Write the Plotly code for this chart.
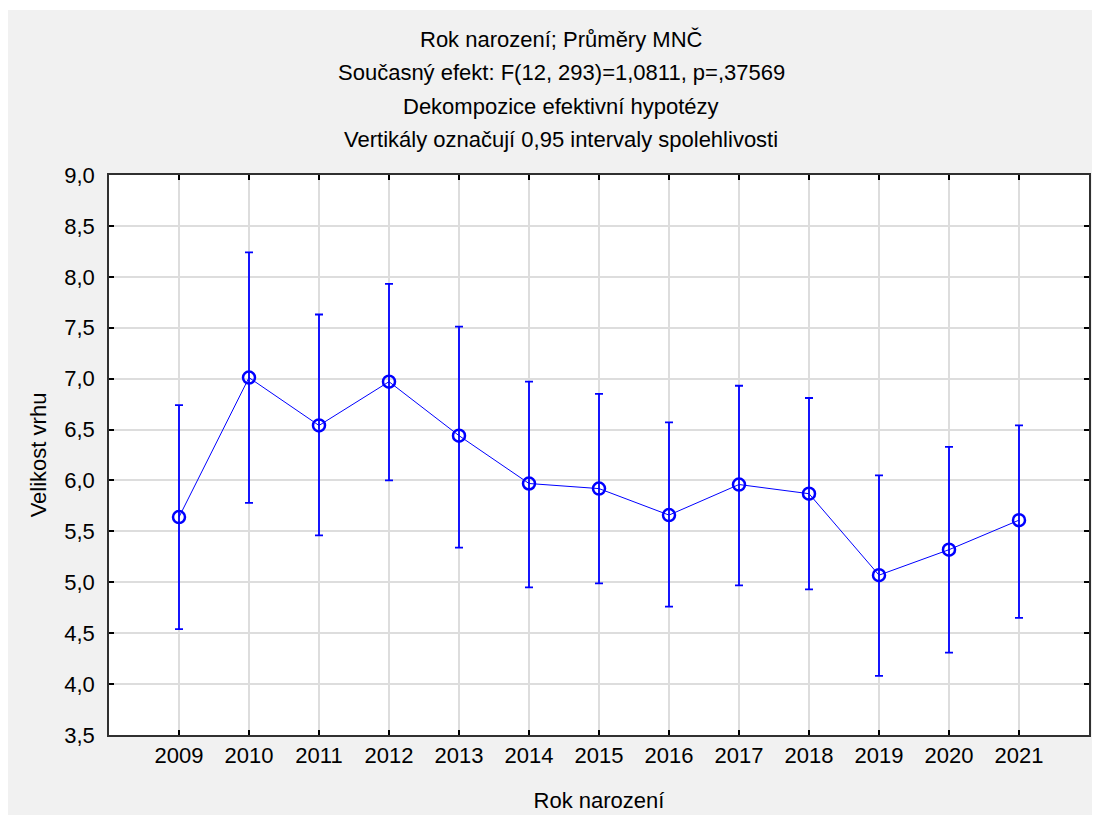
import plotly.graph_objects as go

# data (Rok narození vs. mean Velikost vrhu, 0.95 CI)
years = [2009, 2010, 2011, 2012, 2013, 2014, 2015, 2016, 2017, 2018, 2019, 2020, 2021]
means = [5.64, 7.01, 6.54, 6.97, 6.44, 5.97, 5.92, 5.66, 5.96, 5.87, 5.07, 5.32, 5.61]
upper = [6.74, 8.24, 7.63, 7.93, 7.51, 6.97, 6.85, 6.57, 6.93, 6.81, 6.05, 6.33, 6.54]
lower = [4.54, 5.78, 5.46, 6.00, 5.34, 4.95, 4.99, 4.76, 4.97, 4.93, 4.08, 4.31, 4.65]
year_labels = [str(y) for y in years]

title_lines = [
    "Rok narození; Průměry MNČ",
    "Současný efekt: F(12, 293)=1,0811, p=,37569",
    "Dekompozice efektivní hypotézy",
    "Vertikály označují 0,95 intervaly spolehlivosti",
]

# the page body adds an 8px margin, so the figure is drawn 8px smaller / shifted
OFF = 8
W, H = 1100 - OFF, 821 - OFF
L, R, T, B = 109 - OFF, 9, 175 - OFF, 86
blue = "#0000ff"
font_family = "Liberation Sans, Arial, sans-serif"

err_plus = [u - m for u, m in zip(upper, means)]
err_minus = [m - l for m, l in zip(means, lower)]

fig = go.Figure()
fig.add_trace(go.Scatter(
    x=years, y=means,
    mode="lines+markers",
    line=dict(color=blue, width=1),
    marker=dict(symbol="circle-open", size=12, color=blue, line=dict(width=2.5, color=blue)),
    error_y=dict(type="data", symmetric=False, array=err_plus, arrayminus=err_minus,
                 color=blue, thickness=1.8, width=4),
    showlegend=False,
))

# convert screen pixel positions (reference image) to paper coordinates
pw, ph = W - L - R, H - T - B
def px(x):
    return (x - OFF - L) / pw
def py(y):
    return (H - B - (y - OFF)) / ph

annotations = []
for i, line in enumerate(title_lines):
    annotations.append(dict(
        text=line, xref="paper", yref="paper", x=px(562), y=py(40 + 33 * i),
        xanchor="center", yanchor="middle", showarrow=False,
        font=dict(size=22, color="black", family=font_family),
    ))

# thin white frame round the grey panel (top, bottom, right; left is the page margin)
shapes = []
for x0, y0, x1, y1 in [(0, 0, 1100, 10), (0, 815, 1100, 821), (1095, 0, 1100, 821)]:
    shapes.append(dict(type="rect", xref="paper", yref="paper",
                       x0=px(x0), x1=px(x1), y0=py(y1), y1=py(y0),
                       fillcolor="white", line=dict(width=0), layer="below"))

fig.update_layout(
    width=W, height=H,
    margin=dict(l=L, r=R, t=T, b=B),
    paper_bgcolor="#f1f1f1",
    plot_bgcolor="white",
    separators=", ",
    font=dict(family=font_family, size=22, color="black"),
    annotations=annotations,
    shapes=shapes,
)
fig.update_xaxes(
    range=[2008, 2022],
    tickvals=years, ticktext=year_labels,
    ticks="inside", ticklen=5, tickcolor="black", tickwidth=1.5,
    showgrid=True, gridcolor="#dddddd", gridwidth=1.5,
    showline=True, linecolor="#303030", linewidth=1.5, mirror="ticks",
    zeroline=False,
    tickfont=dict(size=22),
    title=dict(text="Rok narození", font=dict(size=22), standoff=25),
)
fig.update_yaxes(
    range=[3.5, 9.0], dtick=0.5, tick0=3.5, tickformat=".1f",
    ticks="inside", ticklen=5, tickcolor="black", tickwidth=1.5,
    showgrid=True, gridcolor="#dddddd", gridwidth=1.5,
    showline=True, linecolor="#303030", linewidth=1.5, mirror="ticks",
    zeroline=False,
    tickfont=dict(size=22),
    ticklabelstandoff=8,
    title=dict(text="Velikost vrhu", font=dict(size=22), standoff=12),
)

fig.write_html("out.html")
